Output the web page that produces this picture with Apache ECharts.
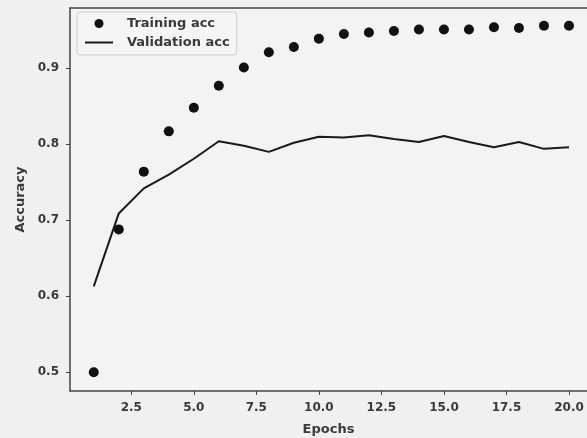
<!DOCTYPE html>
<html>
<head>
    <meta charset="utf-8">
    <title>Training and validation accuracy</title>
    <script src="https://cdn.jsdelivr.net/npm/echarts@6.0.0/dist/echarts.min.js"></script>
    <style>
        html, body { margin: 0; padding: 0; background: #f0f0f0; }
        #main { width: 587px; height: 438px; }
    </style>
</head>
<body>
    <div id="main"></div>
    <script>
        // data
        const epochs = [1, 2, 3, 4, 5, 6, 7, 8, 9, 10, 11, 12, 13, 14, 15, 16, 17, 18, 19, 20];
        const trainAcc = [0.500, 0.688, 0.764, 0.817, 0.848, 0.877, 0.901, 0.921, 0.928, 0.939,
                          0.945, 0.947, 0.949, 0.951, 0.951, 0.951, 0.954, 0.953, 0.956, 0.956];
        const valAcc = [0.613, 0.709, 0.742, 0.760, 0.781, 0.804, 0.798, 0.790, 0.802, 0.810,
                        0.809, 0.812, 0.807, 0.803, 0.811, 0.803, 0.796, 0.803, 0.794, 0.796];
        const xTicks = [2.5, 5, 7.5, 10, 12.5, 15, 17.5, 20];
        const yTicks = [0.5, 0.6, 0.7, 0.8, 0.9];

        const chart = echarts.init(document.getElementById('main'));

        const spine = { color: '#444', width: 1.5 };
        const tickFont = { fontFamily: 'DejaVu Sans', fontSize: 12, fontWeight: 'bold', color: '#3a3a3a' };
        const nameFont = { fontFamily: 'DejaVu Sans', fontSize: 13, fontWeight: 'bold', color: '#3a3a3a' };

        // the plot is cut off on the right: no right spine, x runs past the last tick
        chart.setOption({
            backgroundColor: '#f0f0f0',
            animation: false,
            grid: {
                left: 70, top: 8, right: 0, bottom: 47,
                outerBoundsMode: 'none',
                show: true,
                borderWidth: 0,
                backgroundColor: '#f3f3f3'
            },
            legend: {
                orient: 'vertical',
                left: 77, top: 12,
                padding: [5, 7, 6, 8],
                itemGap: 6,
                itemWidth: 28,
                itemHeight: 9,
                borderColor: '#cccccc',
                borderWidth: 1,
                borderRadius: 3,
                backgroundColor: '#f5f5f5',
                textStyle: { fontFamily: 'DejaVu Sans', fontSize: 13, fontWeight: 'bold',
                             color: '#3a3a3a', padding: [0, 0, 0, 9] },
                data: [
                    { name: 'Training acc', icon: 'circle' },
                    { name: 'Validation acc', icon: 'path://M0,0H28V2H0Z' }
                ]
            },
            xAxis: [
                {
                    type: 'value',
                    min: 0.05,
                    max: 20.72,
                    name: 'Epochs',
                    nameLocation: 'middle',
                    nameGap: 32,
                    nameTextStyle: nameFont,
                    splitLine: { show: false },
                    axisLine: { lineStyle: spine },
                    axisTick: { customValues: xTicks, length: 4, lineStyle: { color: '#444' } },
                    axisLabel: Object.assign({ customValues: xTicks, margin: 11,
                        formatter: v => v.toFixed(1) }, tickFont)
                },
                {
                    type: 'value',
                    position: 'top',
                    min: 0.05,
                    max: 20.72,
                    splitLine: { show: false },
                    axisLine: { lineStyle: spine },
                    axisTick: { show: false },
                    axisLabel: { show: false }
                }
            ],
            yAxis: {
                type: 'value',
                min: 0.4754,
                max: 0.9793,
                name: 'Accuracy',
                nameLocation: 'middle',
                nameGap: 42,
                nameTextStyle: nameFont,
                splitLine: { show: false },
                axisLine: { lineStyle: spine },
                axisTick: { customValues: yTicks, length: 4, lineStyle: { color: '#444' } },
                axisLabel: Object.assign({ customValues: yTicks, margin: 11,
                    formatter: v => v.toFixed(1) }, tickFont)
            },
            series: [
                {
                    name: 'Training acc',
                    type: 'scatter',
                    symbolSize: 10,
                    itemStyle: { color: '#111', opacity: 1 },
                    data: epochs.map((e, i) => [e, trainAcc[i]])
                },
                {
                    name: 'Validation acc',
                    type: 'line',
                    symbol: 'none',
                    itemStyle: { color: '#1a1a1a' },
                    lineStyle: { color: '#1a1a1a', width: 2 },
                    data: epochs.map((e, i) => [e, valAcc[i]])
                }
            ]
        });
    </script>
</body>
</html>
